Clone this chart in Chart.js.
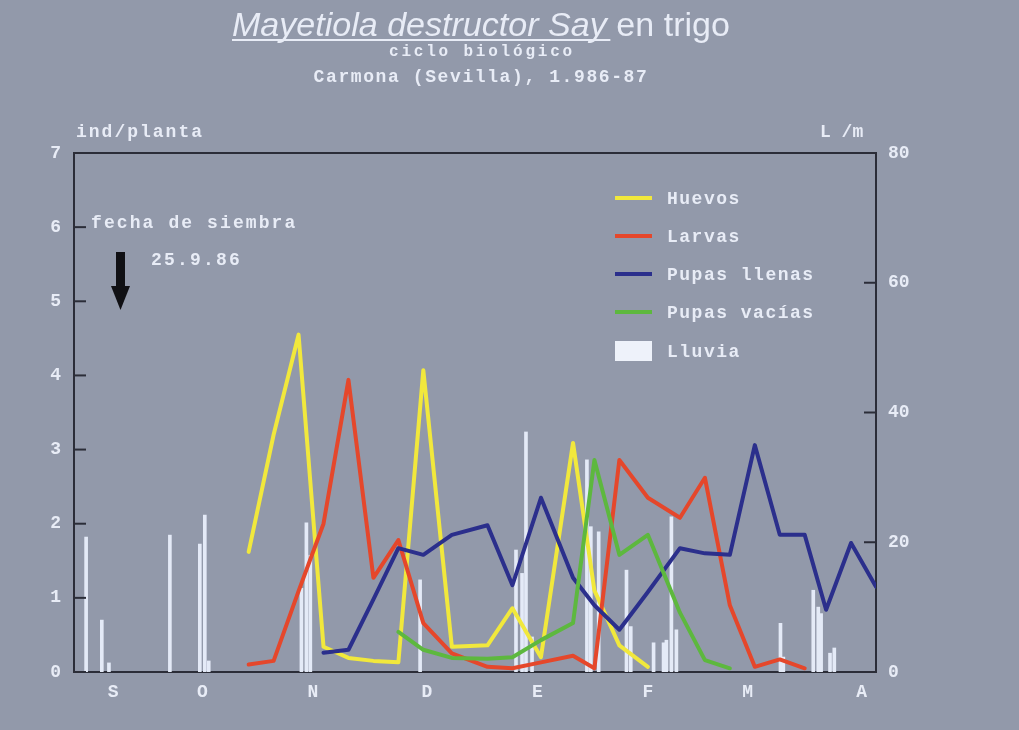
<!DOCTYPE html>
<html>
<head>
<meta charset="utf-8">
<script src="https://cdn.jsdelivr.net/npm/chart.js@4.4.1/dist/chart.umd.min.js"></script>
<style>
  html, body { margin: 0; padding: 0; background: #9299aa; overflow: hidden; }
  #wrap { width: 1019px; height: 730px; position: relative; }
</style>
</head>
<body>
<div id="wrap"><canvas id="grafico" width="1019" height="730"></canvas></div>
<script>
// dias desde el 1 de septiembre de 1986
const dias = [49, 56, 63, 70, 77, 84, 91, 98, 106, 116, 123, 131, 140, 146, 153, 161, 170, 177, 184, 191, 198, 205, 211, 218, 225]
// individuos por planta
const huevos      = [1.62, 3.2, 4.55, 0.34, 0.19, 0.15, 0.13, 4.07, 0.34, 0.36, 0.86, 0.2, 3.09, 1.1, 0.36, 0.07, null, null, null, null, null, null, null, null, null]
const larvas      = [0.1, 0.15, 1.09, 2.0, 3.94, 1.27, 1.78, 0.66, 0.25, 0.07, 0.05, 0.13, 0.22, 0.05, 2.86, 2.35, 2.08, 2.62, 0.9, 0.07, 0.17, 0.05, null, null, null]
const pupasLlenas = [null, null, null, 0.26, 0.3, 0.98, 1.67, 1.58, 1.85, 1.98, 1.17, 2.35, 1.27, 0.9, 0.57, 1.08, 1.67, 1.6, 1.58, 3.06, 1.85, 1.85, 0.84, 1.74, 1.15]
const pupasVacias = [null, null, null, null, null, null, 0.54, 0.3, 0.19, 0.18, 0.2, 0.43, 0.66, 2.86, 1.58, 1.85, 0.8, 0.16, 0.05, null, null, null, null, null, null]
// lluvia, L/m2
const lluviaDias = [3.4, 7.8, 9.8, 26.9, 35.3, 36.7, 37.8, 63.8, 65.2, 66.3, 97.1, 124, 125.7, 126.8, 128.5, 143.9, 145, 147.2, 155, 156.2, 162.6, 165.4, 166.2, 167.6, 169, 198.2, 199, 207.4, 208.8, 209.6, 212.1, 213.3]
const lluviaMm   = [20.8, 8.0, 1.4, 21.1, 19.7, 24.2, 1.7, 12.9, 23, 18, 14.2, 18.8, 15.2, 37, 5.4, 32.7, 22.4, 21.6, 15.7, 7, 4.5, 4.5, 4.9, 23.9, 6.5, 7.5, 2.3, 12.6, 10, 9, 2.9, 3.7]

const meses = ['S', 'O', 'N', 'D', 'E', 'F', 'M', 'A']
const mesPos = [11, 36, 67, 99, 130, 161, 189, 221]
const ticksIzq = [0, 1, 2, 3, 4, 5, 6, 7]
const ticksDer = [0, 20, 40, 60, 80]

const TXT = '#e8ecf6'
const EJE = '#2b2d38'
const MONO = '"Liberation Mono", "DejaVu Sans Mono", monospace'
const FMONO = 'bold 18px ' + MONO

const puntos = (serie) => dias.map((d, i) => ({ x: d, y: serie[i] })).filter(p => p.y !== null)

const series = [
    { label: 'Huevos', data: huevos, color: '#f1e83c' },
    { label: 'Larvas', data: larvas, color: '#e5472b' },
    { label: 'Pupas llenas', data: pupasLlenas, color: '#2b2f8c' },
    { label: 'Pupas vacías', data: pupasVacias, color: '#5db83e' },
]

const datasets = series.map((s, i) => ({
    type: 'line',
    label: s.label,
    data: puntos(s.data),
    borderColor: s.color,
    borderWidth: 4,
    borderJoinStyle: 'round',
    borderCapStyle: 'round',
    pointRadius: 0,
    tension: 0,
    yAxisID: 'y',
    order: 4 - i,
}))
datasets.push({
    type: 'bar',
    label: 'Lluvia',
    data: lluviaDias.map((d, i) => ({ x: d, y: lluviaMm[i] })),
    backgroundColor: '#e4eaf7',
    barThickness: 3,
    yAxisID: 'y2',
    order: 10,
})

const texto = (ctx, str, x, y, font, esp, align) => {
    ctx.font = font
    ctx.letterSpacing = (esp || 0) + 'px'
    ctx.textAlign = align || 'left'
    ctx.fillText(str, x, y)
    ctx.letterSpacing = '0px'
}

const decoracion = {
    id: 'decoracion',
    beforeDraw(chart) {
        const ctx = chart.ctx
        ctx.save()
        ctx.fillStyle = '#9299aa'
        ctx.fillRect(0, 0, chart.width, chart.height)
        ctx.restore()
    },
    afterDraw(chart) {
        const ctx = chart.ctx
        const a = chart.chartArea
        const yL = chart.scales.y, yR = chart.scales.y2
        ctx.save()
        // marco superior
        ctx.strokeStyle = EJE
        ctx.lineWidth = 2
        ctx.beginPath()
        ctx.moveTo(a.left, a.top)
        ctx.lineTo(a.right, a.top)
        ctx.stroke()
        // marcas interiores
        ticksIzq.forEach(v => {
            const y = yL.getPixelForValue(v)
            ctx.beginPath(); ctx.moveTo(a.left, y); ctx.lineTo(a.left + 12, y); ctx.stroke()
        })
        ticksDer.forEach(v => {
            const y = yR.getPixelForValue(v)
            ctx.beginPath(); ctx.moveTo(a.right - 12, y); ctx.lineTo(a.right, y); ctx.stroke()
        })

        ctx.fillStyle = TXT
        ctx.textBaseline = 'alphabetic'
        // titulo
        ctx.font = 'italic 28px "Liberation Sans", Arial, sans-serif'
        const t1 = 'Mayetiola destructor Say '
        const w1 = ctx.measureText(t1).width
        ctx.font = '28px "Liberation Sans", Arial, sans-serif'
        const t2 = 'en trigo'
        const w2 = ctx.measureText(t2).width
        const esc = 498 / (w1 + w2)
        const fs = 28 * esc
        let x0 = 232
        texto(ctx, t1, x0, 36, 'italic ' + fs + 'px "Liberation Sans", Arial, sans-serif')
        texto(ctx, t2, x0 + w1 * esc, 36, fs + 'px "Liberation Sans", Arial, sans-serif')
        ctx.fillRect(x0, 39, w1 * esc - 6, 2)
        texto(ctx, 'ciclo biológico', 482, 56, 'bold 16px ' + MONO, 2.8, 'center')
        texto(ctx, 'Carmona (Sevilla), 1.986-87', 481, 82, FMONO, 1.6, 'center')

        // titulos de ejes
        texto(ctx, 'ind/planta', 76, 137, FMONO, 2.0)
        texto(ctx, 'L /m', 820, 137, FMONO, 0)

        // fecha de siembra
        texto(ctx, 'fecha de siembra', 91, 228, FMONO, 2.1)
        texto(ctx, '25.9.86', 151, 265, FMONO, 2.2)
        ctx.fillStyle = '#101014'
        ctx.fillRect(116, 252, 9, 36)
        ctx.beginPath()
        ctx.moveTo(111, 286); ctx.lineTo(130, 286); ctx.lineTo(120.5, 310); ctx.closePath()
        ctx.fill()

        // leyenda
        const ly = [198, 236, 274, 312]
        series.forEach((s, i) => {
            ctx.strokeStyle = s.color
            ctx.lineWidth = 4
            ctx.beginPath(); ctx.moveTo(615, ly[i]); ctx.lineTo(652, ly[i]); ctx.stroke()
            ctx.fillStyle = TXT
            texto(ctx, s.label, 667, ly[i] + 6, FMONO, 1.5)
        })
        ctx.fillStyle = '#eef2fa'
        ctx.fillRect(615, 341, 37, 20)
        ctx.fillStyle = TXT
        texto(ctx, 'Lluvia', 667, 357, FMONO, 1.5)
        ctx.restore()
    }
}

new Chart(document.getElementById('grafico'), {
    data: { datasets },
    options: {
        responsive: false,
        animation: false,
        maintainAspectRatio: false,
        layout: { padding: { top: 153, left: 0, right: 0, bottom: 0 } },
        plugins: { legend: { display: false }, tooltip: { enabled: false } },
        scales: {
            x: {
                type: 'linear',
                offset: false,
                min: 0, max: 225,
                afterFit: (s) => { s.height = 58 },
                afterBuildTicks: (s) => { s.ticks = mesPos.map(v => ({ value: v })) },
                grid: { display: false, drawTicks: false },
                border: { display: true, color: EJE, width: 2 },
                ticks: {
                    color: TXT, padding: 10, autoSkip: false, maxRotation: 0,
                    font: { family: MONO, size: 18, weight: 'bold' },
                    callback: (v) => meses[mesPos.indexOf(v)],
                },
            },
            y: {
                position: 'left',
                min: 0, max: 7,
                afterFit: (s) => { s.width = 74 },
                afterBuildTicks: (s) => { s.ticks = ticksIzq.map(v => ({ value: v })) },
                grid: { display: false, drawTicks: false },
                border: { display: true, color: EJE, width: 2 },
                ticks: { color: TXT, padding: 13, font: { family: MONO, size: 18, weight: 'bold' } },
            },
            y2: {
                position: 'right',
                min: 0, max: 80,
                afterFit: (s) => { s.width = 143 },
                afterBuildTicks: (s) => { s.ticks = ticksDer.map(v => ({ value: v })) },
                grid: { display: false, drawTicks: false },
                border: { display: true, color: EJE, width: 2 },
                ticks: { color: TXT, padding: 12, font: { family: MONO, size: 18, weight: 'bold' } },
            },
        },
    },
    plugins: [decoracion],
})
</script>
</body>
</html>
